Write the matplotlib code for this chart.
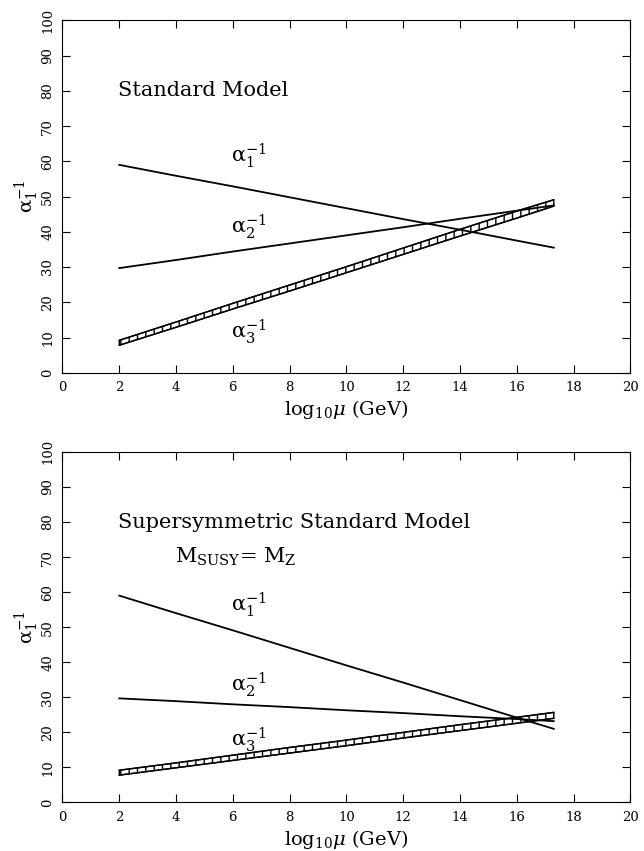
import matplotlib.pyplot as plt

plt.rcParams['font.family'] = 'DejaVu Serif'
plt.rcParams['mathtext.fontset'] = 'dejavuserif'
plt.rcParams['hatch.linewidth'] = 1.0

# log10(mu) sample points
mu = [2, 4, 6, 8, 10, 12, 14, 16, 17.3]

# Standard Model inverse couplings
sm_a1 = [59.0, 55.9, 52.9, 49.8, 46.7, 43.6, 40.6, 37.5, 35.5]
sm_a2 = [29.7, 32.0, 34.4, 36.7, 39.0, 41.3, 43.7, 46.0, 47.5]
sm_a3_lo = [7.8, 12.9, 18.1, 23.2, 28.4, 33.6, 38.8, 43.9, 47.3]
sm_a3_hi = [9.2, 14.4, 19.7, 24.9, 30.1, 35.4, 40.7, 45.9, 49.1]

# Supersymmetric SM (M_SUSY = M_Z)
susy_a1 = [59.0, 54.0, 49.1, 44.1, 39.1, 34.2, 29.2, 24.2, 21.0]
susy_a2 = [29.7, 28.9, 28.0, 27.2, 26.3, 25.5, 24.6, 23.8, 23.2]
susy_a3_lo = [7.8, 9.9, 12.0, 14.1, 16.2, 18.4, 20.5, 22.6, 24.0]
susy_a3_hi = [9.2, 11.3, 13.5, 15.7, 17.8, 20.0, 22.2, 24.3, 25.7]


def draw_panel(ax, a1, a2, a3_lo, a3_hi, lab_y, title, sub=None):
    ax.plot(mu, a1, color='black', lw=1.3)
    ax.plot(mu, a2, color='black', lw=1.3)
    ax.fill_between(mu, a3_lo, a3_hi, facecolor='white', edgecolor='black',
                    hatch='||', lw=1.0)
    ax.plot(mu, a3_lo, color='black', lw=1.0)
    ax.plot(mu, a3_hi, color='black', lw=1.0)

    # curve labels
    for i, y in enumerate(lab_y):
        ax.text(5.95, y, r'$\mathrm{\alpha}_{%d}^{-1}$' % (i + 1),
                fontsize=15, ha='left', va='baseline')
    ax.text(1.95, 80, title, fontsize=15, ha='left', va='center')
    if sub:
        ax.text(3.95, 70, sub, fontsize=15, ha='left', va='center')

    ax.set_xlim(0, 20)
    ax.set_ylim(0, 100)
    ax.set_xticks(range(0, 21, 2))
    ax.set_yticks(range(0, 101, 10))
    ax.tick_params(direction='in', top=True, right=True, length=6,
                   labelsize=9.5, pad=6)
    for lbl in ax.get_yticklabels():
        lbl.set_rotation(90)
        lbl.set_va('center')
    ax.set_xlabel(r'$\mathrm{log}_{10}\mu$ (GeV)', fontsize=14, labelpad=3)
    ax.set_ylabel(r'$\mathrm{\alpha}_{1}^{-1}$', fontsize=14, labelpad=0)


fig = plt.figure(figsize=(6.44, 8.51), dpi=100)
ax1 = fig.add_axes([0.097, 0.562, 0.882, 0.414])
ax2 = fig.add_axes([0.097, 0.057, 0.882, 0.412])

draw_panel(ax1, sm_a1, sm_a2, sm_a3_lo, sm_a3_hi, [59.8, 39.8, 10.0],
           'Standard Model')
draw_panel(ax2, susy_a1, susy_a2, susy_a3_lo, susy_a3_hi, [54.5, 31.8, 16.0],
           'Supersymmetric Standard Model',
           r'M$_{\rm SUSY}$= M$_{\rm Z}$')

fig.savefig('out.png', dpi=100)
